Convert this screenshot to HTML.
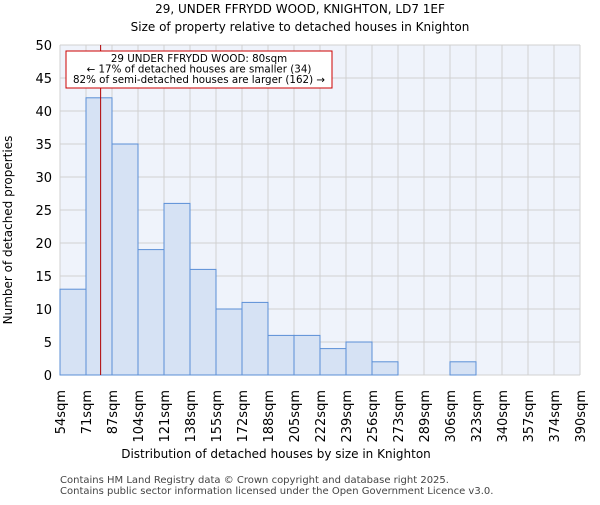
<!DOCTYPE html>
<html><head><meta charset="utf-8"><style>
body{margin:0;background:#fff;font-family:"Liberation Sans","DejaVu Sans",sans-serif}
</style></head><body>
<svg width="600" height="500" xmlns="http://www.w3.org/2000/svg" font-family="DejaVu Sans, Liberation Sans, sans-serif">
<text x="300" y="13" text-anchor="middle" font-size="12">29, UNDER FFRYDD WOOD, KNIGHTON, LD7 1EF</text>
<text x="300" y="31" text-anchor="middle" font-size="12">Size of property relative to detached houses in Knighton</text>
<rect x="60" y="45" width="520" height="330" fill="#eff3fb"/>
<g id="grid"></g>
<g id="bars"></g>
<g id="xt"></g>
<g id="yt"></g>
<line id="marker" y1="45" y2="375" stroke="#b00000" stroke-width="1"/>
<g>
<rect x="66" y="51" width="266" height="37" fill="#fff" stroke="#cc0000" stroke-width="1"/>
<text x="199" y="62" text-anchor="middle" font-size="10.3">29 UNDER FFRYDD WOOD: 80sqm</text>
<text x="199" y="72.5" text-anchor="middle" font-size="10.3">← 17% of detached houses are smaller (34)</text>
<text x="199" y="83" text-anchor="middle" font-size="10.3">82% of semi-detached houses are larger (162) →</text>
</g>
<text x="276" y="458" text-anchor="middle" font-size="12">Distribution of detached houses by size in Knighton</text>
<text transform="translate(12,230) rotate(-90)" text-anchor="middle" font-size="12">Number of detached properties</text>
<text x="60" y="483" font-size="10" fill="#444">Contains HM Land Registry data © Crown copyright and database right 2025.</text>
<text x="60" y="494" font-size="10" fill="#444">Contains public sector information licensed under the Open Government Licence v3.0.</text>
</svg>
<script>
const labels=["54sqm","71sqm","87sqm","104sqm","121sqm","138sqm","155sqm","172sqm","188sqm","205sqm","222sqm","239sqm","256sqm","273sqm","289sqm","306sqm","323sqm","340sqm","357sqm","374sqm","390sqm"];
const edges=[54,71,87,104,121,138,155,172,188,205,222,239,256,273,289,306,323,340,357,374,390];
const counts=[13,42,35,19,26,16,10,11,6,6,4,5,2,0,0,2,0,0,0,0];
const yTicks=[0,5,10,15,20,25,30,35,40,45,50];
const propertySize=80;
const NS="http://www.w3.org/2000/svg";
const L=60,R=580,T=45,B=375,n=counts.length;
const xi=i=>L+(R-L)*i/n;
const y=v=>B-(B-T)*v/50;
function xs(v){let i=0;while(i<edges.length-2&&v>edges[i+1])i++;return xi(i+(v-edges[i])/(edges[i+1]-edges[i]));}
function mk(t,a,p){const e=document.createElementNS(NS,t);for(const k in a)e.setAttribute(k,a[k]);p.appendChild(e);return e;}
const g=document.getElementById('grid'),bg=document.getElementById('bars'),xt=document.getElementById('xt'),yt=document.getElementById('yt');
yTicks.forEach(v=>{
 const l=mk('line',{x1:L,x2:R,y1:y(v),y2:y(v),stroke:'#d0d0d0','stroke-width':1},g);
 
 
 const t=mk('text',{x:L-8,y:y(v)+5,'text-anchor':'end','font-size':13},yt);t.textContent=v;
 
 
});
labels.forEach((s,i)=>{
 const l=mk('line',{x1:xi(i),x2:xi(i),y1:T,y2:B,stroke:'#d0d0d0','stroke-width':1},g);
 
 
 const t=mk('text',{transform:`translate(${xi(i)+5},390) rotate(-90)`,'text-anchor':'end','font-size':13},xt);t.textContent=s;
 
 
});
counts.forEach((c,i)=>{
 if(c<=0)return;
 const r=mk('rect',{x:xi(i),y:y(c),width:xi(i+1)-xi(i),height:B-y(c),fill:'#d6e2f4',stroke:'#5b8fd6','stroke-width':1},bg);
 
 
});
const m=document.getElementById('marker');m.setAttribute('x1',xs(propertySize));m.setAttribute('x2',xs(propertySize));
</script>
</body></html>
